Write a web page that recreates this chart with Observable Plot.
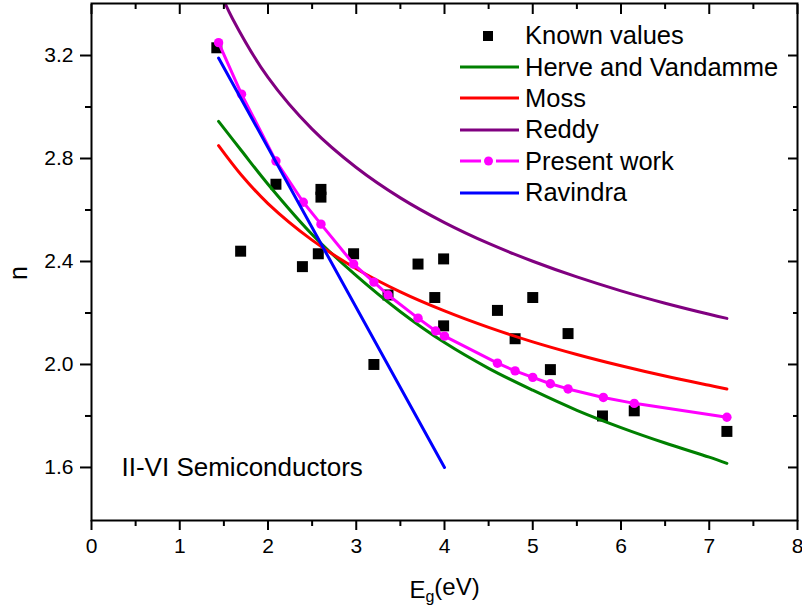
<!DOCTYPE html>
<html><head><meta charset="utf-8">
<script src="https://cdn.jsdelivr.net/npm/d3@7"></script>
<script src="https://cdn.jsdelivr.net/npm/@observablehq/plot@0.6"></script>
<style>
body{margin:0;background:#fff;}
#wrap{position:relative;width:802px;height:612px;font-family:"Liberation Sans",Arial,sans-serif;}
#legend{position:absolute;left:455px;top:20px;}
.row{display:flex;align-items:center;height:31.4px;font-size:25.5px;color:#000;white-space:nowrap;}
.row svg{flex:none;}
</style></head><body><div id="wrap"></div>
<script>
// Known values (squares)
const knownEg = [1.42, 1.69, 2.09, 2.39, 2.57, 2.60, 2.60, 2.97, 3.20, 3.36, 3.70, 3.89, 3.99, 3.99, 4.60, 4.80, 5.00, 5.20, 5.40, 5.79, 6.15, 7.20];
const knownN  = [3.23, 2.44, 2.70, 2.38, 2.43, 2.68, 2.65, 2.43, 2.00, 2.27, 2.39, 2.26, 2.41, 2.15, 2.21, 2.10, 2.26, 1.98, 2.12, 1.80, 1.82, 1.74];
// Present work (magenta line + dots)
const presentEg = [1.44, 1.70, 2.09, 2.40, 2.60, 2.97, 3.20, 3.36, 3.70, 3.90, 4.00, 4.60, 4.80, 5.00, 5.20, 5.40, 5.80, 6.15, 7.20];
const presentN  = [3.25, 3.05, 2.79, 2.63, 2.545, 2.39, 2.32, 2.27, 2.18, 2.13, 2.11, 2.005, 1.975, 1.95, 1.925, 1.905, 1.872, 1.849, 1.795];
// Model curves (read at sample band gaps)
const curveEg = [1.44, 1.7, 2.0, 2.5, 3.0, 3.5, 4.0, 4.5, 5.0, 5.5, 6.0, 6.5, 7.0, 7.2];
const herveN  = [2.944, 2.83, 2.70, 2.505, 2.345, 2.205, 2.085, 1.985, 1.90, 1.822, 1.755, 1.695, 1.640, 1.616];
const mossN   = [2.85, 2.735, 2.625, 2.483, 2.372, 2.282, 2.208, 2.144, 2.088, 2.039, 1.995, 1.955, 1.919, 1.905];
const reddyEg = [1.44, 1.6, 2.0, 2.5, 3.0, 3.5, 4.0, 4.5, 5.0, 5.5, 6.0, 6.5, 7.0, 7.2];
const reddyN  = [3.46, 3.342, 3.115, 2.914, 2.765, 2.647, 2.551, 2.47, 2.401, 2.34, 2.286, 2.238, 2.195, 2.179];
const ravindraEg = [1.44, 4.0];
const ravindraN  = [3.19, 1.60];
// Axes
const xTicks = [0, 1, 2, 3, 4, 5, 6, 7, 8];
const xMinor = [0.5, 1.5, 2.5, 3.5, 4.5, 5.5, 6.5, 7.5];
const yTicks = [1.6, 2.0, 2.4, 2.8, 3.2];
const yMinor = [1.8, 2.2, 2.6, 3.0];
const legendNames  = ["Known values", "Herve and Vandamme", "Moss", "Reddy", "Present work", "Ravindra"];
const legendColors = ["#000000", "#008000", "#ff0000", "#800080", "#ff00ff", "#0000ff"];
const annotation = "II-VI Semiconductors";

const zip = (xs, ys) => xs.map((x, i) => ({x, y: ys[i]}));
const known = zip(knownEg, knownN);
const present = zip(presentEg, presentN);
const herve = zip(curveEg, herveN);
const moss = zip(curveEg, mossN);
const reddy = zip(reddyEg, reddyN);
const ravindra = zip(ravindraEg, ravindraN);

const font = "Liberation Sans, Arial, sans-serif";
const f1 = d3.format(".1f");

const chart = Plot.plot({
  width: 802, height: 612,
  marginLeft: 91, marginRight: 5, marginTop: 3, marginBottom: 92,
  style: {fontFamily: font, background: "#fff", color: "#000"},
  x: {domain: [0, 8]},
  y: {domain: [1.394, 3.402]},
  marks: [
    Plot.dot(known, {x: "x", y: "y", symbol: "square", r: 6.2, fill: "#000", stroke: "none"}),
    Plot.line(herve, {x: "x", y: "y", stroke: legendColors[1], strokeWidth: 3, curve: "catmull-rom"}),
    Plot.line(moss, {x: "x", y: "y", stroke: legendColors[2], strokeWidth: 3, curve: "catmull-rom"}),
    Plot.line(reddy, {x: "x", y: "y", stroke: legendColors[3], strokeWidth: 3, curve: "catmull-rom", clip: true}),
    Plot.line(present, {x: "x", y: "y", stroke: legendColors[4], strokeWidth: 3}),
    Plot.dot(present, {x: "x", y: "y", r: 4.7, fill: legendColors[4], stroke: "none"}),
    Plot.line(ravindra, {x: "x", y: "y", stroke: legendColors[5], strokeWidth: 3}),
    Plot.text([annotation], {x: () => 0.34, y: () => 1.6, text: d => d, textAnchor: "start", lineAnchor: "middle", fontSize: 26, fill: "#000"}),
    // bottom axis
    Plot.axisX({anchor: "bottom", ticks: xTicks, tickSize: 10, tickPadding: 8, strokeWidth: 2, fontSize: 21, tickFormat: d3.format("d"), label: null}),
    Plot.axisX({anchor: "bottom", ticks: xMinor, tickSize: 6, strokeWidth: 2, tickFormat: () => "", label: null}),
    // top axis (inward ticks)
    Plot.axisX({anchor: "top", ticks: xTicks, tickSize: 10, dy: 10, strokeWidth: 2, tickFormat: () => "", label: null}),
    Plot.axisX({anchor: "top", ticks: xMinor, tickSize: 5, dy: 5, strokeWidth: 2, tickFormat: () => "", label: null}),
    // left axis
    Plot.axisY({anchor: "left", ticks: yTicks, tickSize: 11, tickPadding: 7, strokeWidth: 2, fontSize: 21, tickFormat: f1, label: null}),
    Plot.axisY({anchor: "left", ticks: yMinor, tickSize: 6, strokeWidth: 2, tickFormat: () => "", label: null}),
    // right axis (inward ticks)
    Plot.axisY({anchor: "right", ticks: yTicks, tickSize: 10, dx: -10, strokeWidth: 2, tickFormat: () => "", label: null}),
    Plot.axisY({anchor: "right", ticks: yMinor, tickSize: 5, dx: -5, strokeWidth: 2, tickFormat: () => "", label: null}),
    Plot.frame({stroke: "#000", strokeWidth: 2}),
    // axis titles
    Plot.text(["n"], {frameAnchor: "left", dx: -73, dy: 18, rotate: -90, fontSize: 25, fill: "#000"}),
    Plot.text(["Eg(eV)"], {frameAnchor: "bottom", dy: 77, lineAnchor: "bottom", fontSize: 24, fill: "#000"})
  ]
});

// subscript for E_g
d3.select(chart).selectAll("text").filter(function() { return this.textContent === "Eg(eV)"; })
  .each(function() {
    const t = d3.select(this);
    t.text(null);
    t.append("tspan").text("E");
    t.append("tspan").attr("dy", "0.3em").attr("font-size", "16px").text("g");
    t.append("tspan").attr("dy", "-0.3em").text("(eV)");
  });

const wrap = document.getElementById("wrap");
wrap.appendChild(chart);

// legend overlay
const legend = document.createElement("div");
legend.id = "legend";
legendNames.forEach((name, i) => {
  const row = document.createElement("div");
  row.className = "row";
  const sw = d3.create("svg").attr("width", 70).attr("height", 20);
  const c = legendColors[i];
  if (i === 0) {
    sw.append("rect").attr("x", 28).attr("y", 5).attr("width", 10).attr("height", 10).attr("fill", c);
  } else if (name === "Present work") {
    sw.append("line").attr("x1", 5).attr("x2", 26).attr("y1", 10).attr("y2", 10).attr("stroke", c).attr("stroke-width", 3);
    sw.append("line").attr("x1", 41).attr("x2", 64).attr("y1", 10).attr("y2", 10).attr("stroke", c).attr("stroke-width", 3);
    sw.append("circle").attr("cx", 33.5).attr("cy", 10).attr("r", 4.5).attr("fill", c);
  } else {
    sw.append("line").attr("x1", 5).attr("x2", 64).attr("y1", 10).attr("y2", 10).attr("stroke", c).attr("stroke-width", 3);
  }
  row.appendChild(sw.node());
  const span = document.createElement("span");
  span.textContent = name;
  row.appendChild(span);
  legend.appendChild(row);
});
wrap.appendChild(legend);
</script>
</body></html>
